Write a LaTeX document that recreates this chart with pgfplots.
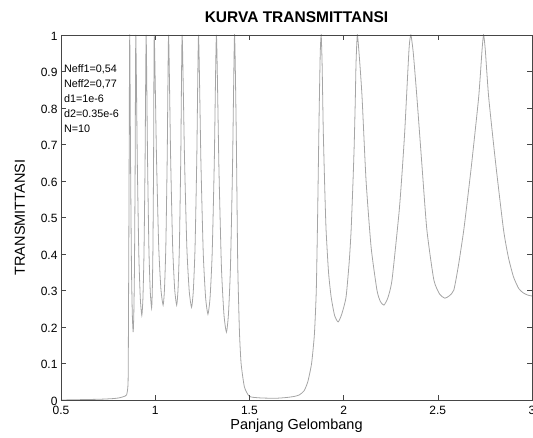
\documentclass[border=0pt]{standalone}
\usepackage{fontspec}
\setmainfont{Liberation Sans}
\usepackage{pgfplots}
\pgfplotsset{compat=1.18}

\definecolor{curvegray}{RGB}{165,165,165}
\definecolor{framegray}{RGB}{70,70,70}

\begin{document}
\begin{tikzpicture}
\begin{axis}[
    scale only axis,
    width=471pt,
    height=365pt,
    xmin=0.5, xmax=3,
    ymin=0, ymax=1,
    xtick={0.5,1,1.5,2,2.5,3},
    ytick={0,0.1,0.2,0.3,0.4,0.5,0.6,0.7,0.8,0.9,1},
    tick align=inside,
    major tick length=5pt,
    axis line style={framegray},
    every tick/.style={framegray},
    /pgf/number format/assume math mode=true,
    /pgf/number format/fixed,
    tick label style={font=\fontsize{12}{14}\selectfont},
    xticklabel style={yshift=-3pt},
    yticklabel style={yshift=-1pt},
    label style={font=\fontsize{14.5}{16}\selectfont},
    title style={font=\fontsize{15.5}{17}\selectfont\bfseries, yshift=3pt},
    title={KURVA TRANSMITTANSI},
    xlabel={Panjang Gelombang},
    ylabel={TRANSMITTANSI},
    xlabel style={yshift=3pt},
    ylabel style={yshift=9pt},
    axis on top,
]
\addplot[curvegray, line width=0.8pt, smooth, tension=0.35] coordinates {
(0.50,0.000) (0.70,0.002) (0.78,0.004) (0.81,0.006) (0.83,0.009)
(0.848,0.014) (0.856,0.047) (0.858,0.20) (0.861,0.55) (0.863,0.85)
(0.865,1.000) (0.8695,0.634) (0.874,0.365) (0.8785,0.235) (0.883,0.186)
(0.8865,0.235) (0.890,0.365) (0.8935,0.634) (0.897,1.000)
(0.905,0.654) (0.913,0.401) (0.921,0.278) (0.929,0.232)
(0.9348,0.278) (0.9405,0.401) (0.9463,0.654) (0.952,1.000)
(0.9593,0.663) (0.9665,0.417) (0.9738,0.297) (0.981,0.252)
(0.9845,0.297) (0.988,0.417) (0.9915,0.663) (0.995,1.000)
(1.0068,0.667) (1.0185,0.423) (1.0303,0.304) (1.042,0.260)
(1.0493,0.304) (1.0565,0.423) (1.0638,0.667) (1.071,1.000)
(1.0818,0.667) (1.0925,0.423) (1.1033,0.304) (1.114,0.260)
(1.1213,0.304) (1.1285,0.423) (1.1358,0.667) (1.143,1.000)
(1.1555,0.664) (1.168,0.418) (1.1805,0.299) (1.193,0.254)
(1.2023,0.299) (1.2115,0.418) (1.2208,0.664) (1.230,1.000)
(1.2425,0.656) (1.255,0.403) (1.2675,0.281) (1.280,0.235)
(1.2913,0.281) (1.3025,0.403) (1.3138,0.656) (1.325,1.000)
(1.3383,0.634) (1.3515,0.365) (1.3648,0.235) (1.378,0.186)
(1.3888,0.235) (1.3995,0.365) (1.4103,0.634) (1.421,1.000)
(1.430,0.74) (1.438,0.375) (1.447,0.19) (1.456,0.10) (1.4735,0.036)
(1.50,0.010) (1.55,0.006) (1.60,0.005) (1.65,0.005) (1.70,0.007)
(1.74,0.010) (1.765,0.014) (1.79,0.025) (1.81,0.05) (1.83,0.10)
(1.845,0.18) (1.855,0.30) (1.862,0.50) (1.870,0.78) (1.876,0.95)
(1.881,1.000) (1.886,0.92) (1.892,0.74) (1.900,0.58) (1.907,0.466)
(1.920,0.35) (1.934,0.282) (1.952,0.232) (1.971,0.214) (1.990,0.235)
(2.013,0.282) (2.030,0.38) (2.040,0.466) (2.050,0.60) (2.056,0.693)
(2.062,0.82) (2.066,0.923) (2.073,1.000) (2.085,0.93) (2.098,0.83)
(2.119,0.603) (2.146,0.419) (2.177,0.301) (2.195,0.270) (2.214,0.260)
(2.235,0.280) (2.257,0.329) (2.294,0.512) (2.310,0.62) (2.325,0.74)
(2.347,0.959) (2.357,1.000) (2.370,0.95) (2.389,0.83) (2.415,0.649)
(2.442,0.466) (2.479,0.329) (2.510,0.290) (2.537,0.279) (2.560,0.285)
(2.585,0.301) (2.610,0.37) (2.638,0.466) (2.660,0.56) (2.680,0.649)
(2.717,0.83) (2.735,0.96) (2.743,1.000) (2.752,0.96) (2.770,0.83)
(2.807,0.649) (2.849,0.466) (2.875,0.39) (2.902,0.337) (2.930,0.305)
(2.955,0.293) (2.980,0.287) (3.00,0.285)
};
\node[anchor=north west, align=left, inner sep=0pt,
      font=\fontsize{10.8}{15}\selectfont]
  at (rel axis cs:0.006,0.918)
  {Neff1=0,54\\Neff2=0,77\\d1=1e-6\\d2=0.35e-6\\N=10};
\end{axis}
\pgfresetboundingbox
\path[use as bounding box]
  ([xshift=-61pt,yshift=-37pt]current axis.south west)
  rectangle ([xshift=1pt,yshift=35pt]current axis.north east);
\end{tikzpicture}
\end{document}
